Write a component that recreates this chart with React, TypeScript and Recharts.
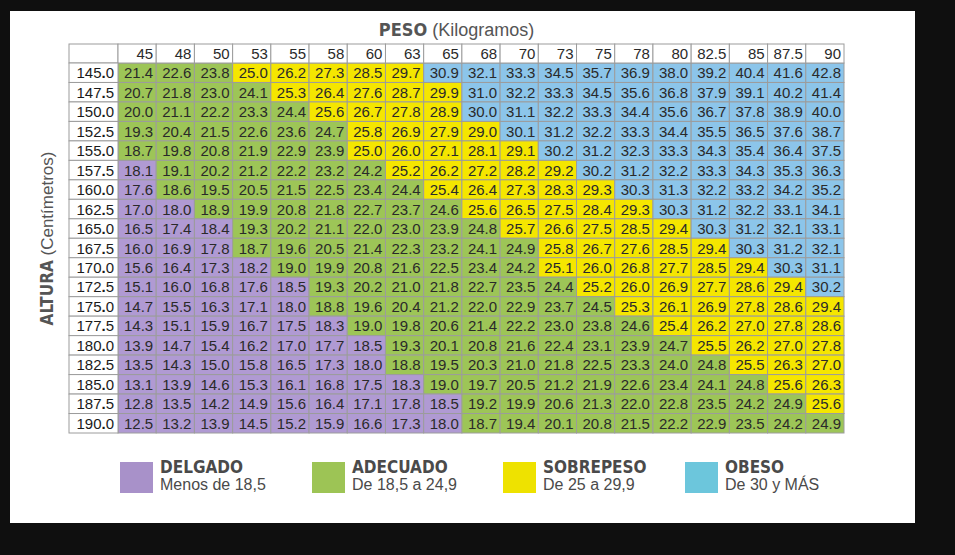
import React from 'react';
import { ScatterChart, Scatter, XAxis, YAxis } from 'recharts';

// Peso (kg) columns
const weights = ['45', '48', '50', '53', '55', '58', '60', '63', '65', '68', '70', '73', '75', '78', '80', '82.5', '85', '87.5', '90'];
// Altura (cm) rows
const heights = ['145.0', '147.5', '150.0', '152.5', '155.0', '157.5', '160.0', '162.5', '165.0', '167.5', '170.0', '172.5', '175.0', '177.5', '180.0', '182.5', '185.0', '187.5', '190.0'];

const imcRows: number[][] = [
  [21.4, 22.6, 23.8, 25.0, 26.2, 27.3, 28.5, 29.7, 30.9, 32.1, 33.3, 34.5, 35.7, 36.9, 38.0, 39.2, 40.4, 41.6, 42.8],
  [20.7, 21.8, 23.0, 24.1, 25.3, 26.4, 27.6, 28.7, 29.9, 31.0, 32.2, 33.3, 34.5, 35.6, 36.8, 37.9, 39.1, 40.2, 41.4],
  [20.0, 21.1, 22.2, 23.3, 24.4, 25.6, 26.7, 27.8, 28.9, 30.0, 31.1, 32.2, 33.3, 34.4, 35.6, 36.7, 37.8, 38.9, 40.0],
  [19.3, 20.4, 21.5, 22.6, 23.6, 24.7, 25.8, 26.9, 27.9, 29.0, 30.1, 31.2, 32.2, 33.3, 34.4, 35.5, 36.5, 37.6, 38.7],
  [18.7, 19.8, 20.8, 21.9, 22.9, 23.9, 25.0, 26.0, 27.1, 28.1, 29.1, 30.2, 31.2, 32.3, 33.3, 34.3, 35.4, 36.4, 37.5],
  [18.1, 19.1, 20.2, 21.2, 22.2, 23.2, 24.2, 25.2, 26.2, 27.2, 28.2, 29.2, 30.2, 31.2, 32.2, 33.3, 34.3, 35.3, 36.3],
  [17.6, 18.6, 19.5, 20.5, 21.5, 22.5, 23.4, 24.4, 25.4, 26.4, 27.3, 28.3, 29.3, 30.3, 31.3, 32.2, 33.2, 34.2, 35.2],
  [17.0, 18.0, 18.9, 19.9, 20.8, 21.8, 22.7, 23.7, 24.6, 25.6, 26.5, 27.5, 28.4, 29.3, 30.3, 31.2, 32.2, 33.1, 34.1],
  [16.5, 17.4, 18.4, 19.3, 20.2, 21.1, 22.0, 23.0, 23.9, 24.8, 25.7, 26.6, 27.5, 28.5, 29.4, 30.3, 31.2, 32.1, 33.1],
  [16.0, 16.9, 17.8, 18.7, 19.6, 20.5, 21.4, 22.3, 23.2, 24.1, 24.9, 25.8, 26.7, 27.6, 28.5, 29.4, 30.3, 31.2, 32.1],
  [15.6, 16.4, 17.3, 18.2, 19.0, 19.9, 20.8, 21.6, 22.5, 23.4, 24.2, 25.1, 26.0, 26.8, 27.7, 28.5, 29.4, 30.3, 31.1],
  [15.1, 16.0, 16.8, 17.6, 18.5, 19.3, 20.2, 21.0, 21.8, 22.7, 23.5, 24.4, 25.2, 26.0, 26.9, 27.7, 28.6, 29.4, 30.2],
  [14.7, 15.5, 16.3, 17.1, 18.0, 18.8, 19.6, 20.4, 21.2, 22.0, 22.9, 23.7, 24.5, 25.3, 26.1, 26.9, 27.8, 28.6, 29.4],
  [14.3, 15.1, 15.9, 16.7, 17.5, 18.3, 19.0, 19.8, 20.6, 21.4, 22.2, 23.0, 23.8, 24.6, 25.4, 26.2, 27.0, 27.8, 28.6],
  [13.9, 14.7, 15.4, 16.2, 17.0, 17.7, 18.5, 19.3, 20.1, 20.8, 21.6, 22.4, 23.1, 23.9, 24.7, 25.5, 26.2, 27.0, 27.8],
  [13.5, 14.3, 15.0, 15.8, 16.5, 17.3, 18.0, 18.8, 19.5, 20.3, 21.0, 21.8, 22.5, 23.3, 24.0, 24.8, 25.5, 26.3, 27.0],
  [13.1, 13.9, 14.6, 15.3, 16.1, 16.8, 17.5, 18.3, 19.0, 19.7, 20.5, 21.2, 21.9, 22.6, 23.4, 24.1, 24.8, 25.6, 26.3],
  [12.8, 13.5, 14.2, 14.9, 15.6, 16.4, 17.1, 17.8, 18.5, 19.2, 19.9, 20.6, 21.3, 22.0, 22.8, 23.5, 24.2, 24.9, 25.6],
  [12.5, 13.2, 13.9, 14.5, 15.2, 15.9, 16.6, 17.3, 18.0, 18.7, 19.4, 20.1, 20.8, 21.5, 22.2, 22.9, 23.5, 24.2, 24.9],
];

const categories = [
  { name: 'DELGADO', desc: 'Menos de 18,5', cell: '#b09ad3', swatch: '#a891c9' },
  { name: 'ADECUADO', desc: 'De 18,5 a 24,9', cell: '#9dc557', swatch: '#9dc455' },
  { name: 'SOBREPESO', desc: 'De 25 a 29,9', cell: '#f5e600', swatch: '#eee200' },
  { name: 'OBESO', desc: 'De 30 y MÁS', cell: '#8cc5ea', swatch: '#6cc6dc' },
];

const categoryOf = (v: number) => (v <= 18.5 ? 0 : v < 25 ? 1 : v < 30 ? 2 : 3);

const W = 955;
const H = 555;
const TABLE_LEFT = 69;
const TABLE_TOP = 44;
const LABEL_W = 49;
const HEADER_H = 19;
const MARGIN = { top: TABLE_TOP, left: TABLE_LEFT, right: 111, bottom: 122 };
const PLOT_W = W - MARGIN.left - LABEL_W - MARGIN.right;
const PLOT_H = H - MARGIN.top - HEADER_H - MARGIN.bottom;
const CW = PLOT_W / weights.length;
const RH = PLOT_H / heights.length;

const GRID = '#9c9c9c';
const TEXT = '#2a2a2a';
const NARROW = "'Liberation Sans Narrow', 'DejaVu Sans Condensed', sans-serif";
const SANS = "'Liberation Sans', Arial, sans-serif";

const points = imcRows.flatMap((row, ri) =>
  row.map((v, ci) => ({ x: ci + 0.5, y: ri + 0.5, v })),
);

function CellShape(props: any) {
  const { cx, cy, payload } = props;
  if (cx == null || cy == null) return null;
  const cat = categories[categoryOf(payload.v)];
  return (
    <g>
      <rect x={cx - CW / 2} y={cy - RH / 2} width={CW} height={RH} fill={cat.cell} stroke={GRID} strokeWidth={1} />
      <text x={cx + CW / 2 - 3} y={cy + 5.5} textAnchor="end" fontSize={15} fontFamily={SANS} fill={TEXT}>
        {payload.v.toFixed(1)}
      </text>
    </g>
  );
}

function WeightTick(props: any) {
  const { x, payload } = props;
  const label = weights[Math.floor(payload.value)];
  return (
    <g>
      <rect x={x - CW / 2} y={TABLE_TOP} width={CW} height={HEADER_H} fill="#fff" stroke={GRID} />
      <text x={x + CW / 2 - 3} y={TABLE_TOP + 15} textAnchor="end" fontSize={15} fontFamily={SANS} fill={TEXT}>
        {label}
      </text>
    </g>
  );
}

function HeightTick(props: any) {
  const { y, payload } = props;
  const label = heights[Math.floor(payload.value)];
  const [whole, dec] = label.split('.');
  return (
    <g>
      <rect x={TABLE_LEFT} y={y - RH / 2} width={LABEL_W} height={RH} fill="#fff" stroke={GRID} />
      <text x={TABLE_LEFT + LABEL_W - 4} y={y + 5.5} textAnchor="end" fontSize={15} fontFamily={SANS} fill="#1a1a1a">
        <tspan>{whole}</tspan>
        <tspan fontWeight="bold">.</tspan>
        <tspan>{dec}</tspan>
      </text>
    </g>
  );
}

function PesoTitle() {
  const cx = TABLE_LEFT + (LABEL_W + PLOT_W) / 2;
  return (
    <g>
      <rect x={TABLE_LEFT} y={TABLE_TOP} width={LABEL_W} height={HEADER_H} fill="#fff" stroke={GRID} />
      <text x={cx} y={36} textAnchor="middle" fill="#555" fontSize={18}>
        <tspan fontFamily={NARROW} fontWeight="bold">PESO</tspan>
        <tspan fontFamily={SANS}> (Kilogramos)</tspan>
      </text>
    </g>
  );
}

function AlturaTitle() {
  const cy = TABLE_TOP + (HEADER_H + PLOT_H) / 2;
  return (
    <text x={53} y={cy} transform={`rotate(-90 53 ${cy})`} textAnchor="middle" fill="#555" fontSize={17}>
      <tspan fontFamily={NARROW} fontWeight="bold">ALTURA</tspan>
      <tspan fontFamily={SANS}> (Centímetros)</tspan>
    </text>
  );
}

const legendLefts = [120, 312, 503, 685];

export default function App() {
  return (
    <div style={{ position: 'absolute', left: 0, top: 0, width: W, height: H, background: '#0f0f0f', overflow: 'hidden' }}>
      <div style={{ position: 'absolute', left: 10, top: 11, width: 905, height: 512, background: '#fff' }} />
      <div style={{ position: 'absolute', left: 0, top: 0 }}>
        <ScatterChart width={W} height={H} margin={MARGIN}>
          <XAxis
            type="number"
            dataKey="x"
            orientation="top"
            domain={[0, weights.length]}
            ticks={weights.map((_, i) => i + 0.5)}
            interval={0}
            height={HEADER_H}
            axisLine={false}
            tickLine={false}
            tick={<WeightTick />}
            label={{ content: () => <PesoTitle /> }}
          />
          <YAxis
            type="number"
            dataKey="y"
            reversed
            domain={[0, heights.length]}
            ticks={heights.map((_, i) => i + 0.5)}
            interval={0}
            width={LABEL_W}
            axisLine={false}
            tickLine={false}
            tick={<HeightTick />}
            label={{ content: () => <AlturaTitle /> }}
          />
          <Scatter data={points} shape={<CellShape />} isAnimationActive={false} />
        </ScatterChart>
      </div>
      {categories.map((c, i) => (
        <div key={c.name} style={{ position: 'absolute', left: legendLefts[i], top: 462, display: 'flex' }}>
          <div style={{ width: 33, height: 31, background: c.swatch }} />
          <div style={{ marginLeft: 7, marginTop: -3, color: '#4a4a4a' }}>
            <div style={{ fontFamily: NARROW, fontWeight: 'bold', fontSize: 17, lineHeight: '17px' }}>{c.name}</div>
            <div style={{ fontFamily: SANS, fontSize: 16, lineHeight: '17px' }}>{c.desc}</div>
          </div>
        </div>
      ))}
    </div>
  );
}
